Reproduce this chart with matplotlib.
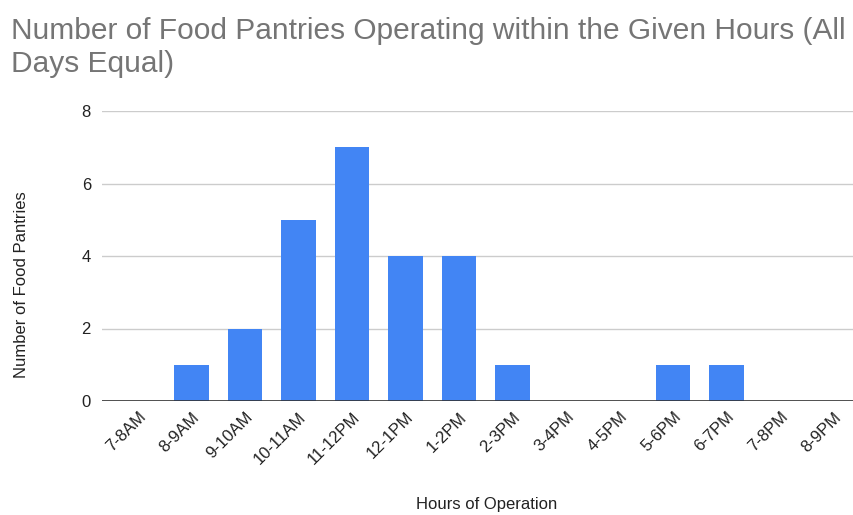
import matplotlib
matplotlib.use("Agg")
import matplotlib.pyplot as plt
from matplotlib import font_manager

hours = ["7-8AM", "8-9AM", "9-10AM", "10-11AM", "11-12PM", "12-1PM", "1-2PM",
         "2-3PM", "3-4PM", "4-5PM", "5-6PM", "6-7PM", "7-8PM", "8-9PM"]
pantries = [0, 1, 2, 5, 7, 4, 4, 1, 0, 0, 1, 1, 0, 0]

# the reference uses a narrow Arial-like face; use Liberation Sans Narrow if it is there
try:
    font_manager.findfont("Liberation Sans Narrow", fallback_to_default=False)
    narrow = True
except ValueError:
    narrow = False

base = "Liberation Sans Narrow" if narrow else "Liberation Sans"
plt.rcParams["font.family"] = [base, "DejaVu Sans"]
title_size = 24 if narrow else 21.5
label_size = 13 if narrow else 12

fig = plt.figure(figsize=(8.54, 5.15), dpi=100)
ax = fig.add_axes([102 / 854, (515 - 401) / 515, 1 - 102 / 854, (401 - 111) / 515])

x = list(range(len(hours)))
ax.bar(x, pantries, width=0.65, color="#4285f4", zorder=3)

ax.set_xlim(-0.67, 13.38)
ax.set_ylim(0, 8)
ax.set_yticks([0, 2, 4, 6, 8])
ax.grid(axis="y", color="#cccccc", linewidth=1, zorder=0)
ax.axhline(0, color="#333333", linewidth=1.2, zorder=4)
for s in ax.spines.values():
    s.set_visible(False)
ax.tick_params(axis="both", length=0, labelsize=label_size, colors="#222222")
ax.tick_params(axis="y", pad=8)
ax.tick_params(axis="x", pad=6)
ax.set_xticks(x)
ax.set_xticklabels(hours, rotation=45, ha="right", rotation_mode="anchor")

# axis titles placed directly in figure pixels
fig.text(22 / 854, 1 - 285 / 515, "Number of Food Pantries", fontsize=label_size, color="#222222",
         rotation=90, ha="center", va="center")
fig.text(487 / 854, 1 - 505 / 515, "Hours of Operation", fontsize=label_size, color="#222222",
         ha="center", va="center")

fig.text(11 / 854, 1 - 17 / 515, "Number of Food Pantries Operating within the Given Hours (All\nDays Equal)",
         fontsize=title_size, color="#757575", ha="left", va="top", linespacing=1.25)

fig.savefig("out.png", dpi=100)
